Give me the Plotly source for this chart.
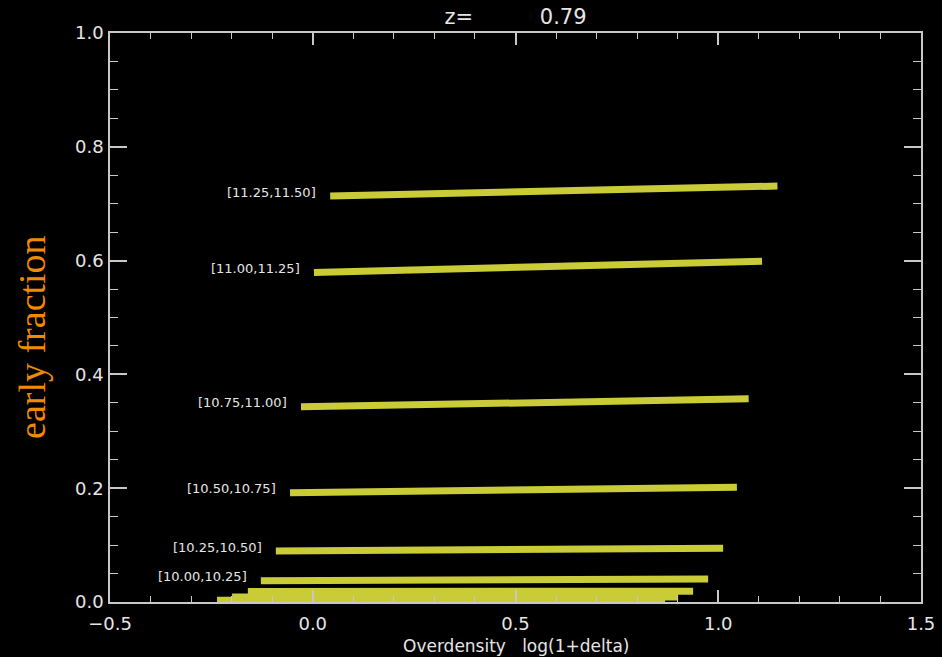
import plotly.graph_objects as go

# Mass bins (labels) and fitted early-fraction lines vs overdensity
bin_labels = ["[11.25,11.50]", "[11.00,11.25]", "[10.75,11.00]", "[10.50,10.75]",
              "[10.25,10.50]", "[10.00,10.25]", "", "", ""]
x_start = [0.043, 0.003, -0.029, -0.056, -0.091, -0.128, -0.160, -0.199, -0.236]
x_end   = [1.146, 1.108, 1.075, 1.046, 1.012, 0.975, 0.938, 0.901, 0.869]
y_start = [0.7135, 0.579, 0.343, 0.192, 0.0896, 0.0375, 0.0185, 0.009, 0.003]
y_end   = [0.731, 0.599, 0.357, 0.2015, 0.0944, 0.0405, 0.019, 0.009, 0.003]

redshift = "0.79"
x_ticks = [-0.5, 0.0, 0.5, 1.0, 1.5]
y_ticks = [0.0, 0.2, 0.4, 0.6, 0.8, 1.0]

line_color = "#c9cc36"
axis_color = "#c8c8c8"
text_color = "#e6e6e6"

fig = go.Figure()
for xs, xe, ys, ye in zip(x_start, x_end, y_start, y_end):
    fig.add_trace(go.Scatter(x=[xs, xe], y=[ys, ye], mode="lines",
                             line=dict(color=line_color, width=7),
                             showlegend=False, hoverinfo="skip"))

annotations = []
for lab, xs, ys in zip(bin_labels, x_start, y_start):
    if not lab:
        continue
    annotations.append(dict(x=xs, y=ys, xref="x", yref="y", text=lab,
                            showarrow=False, xanchor="right", yanchor="middle",
                            xshift=-12, yshift=4,
                            font=dict(family="DejaVu Sans", size=13, color=text_color)))

# y-axis title (orange, serif)
annotations.append(dict(x=-0.096, y=0.466, xref="paper", yref="paper",
                        text="early fraction", textangle=-90, showarrow=False,
                        xanchor="center", yanchor="middle",
                        font=dict(family="Liberation Serif", size=38, color="#f08a00")))
# x-axis title
annotations.append(dict(x=0.5, y=-0.0773, xref="paper", yref="paper",
                        text="Overdensity\u00a0\u00a0\u00a0log(1+delta)", showarrow=False,
                        xanchor="center", yanchor="middle",
                        font=dict(family="DejaVu Sans", size=17, color=text_color)))

axis_common = dict(showline=True, linecolor=axis_color, linewidth=1.5, mirror="allticks",
                   ticks="inside", tickcolor=axis_color, tickwidth=1.5,
                   showgrid=False, zeroline=False, automargin=False,
                   tickfont=dict(family="DejaVu Sans", size=18, color=text_color))

fig.update_layout(
    width=942, height=657,
    paper_bgcolor="black", plot_bgcolor="black",
    margin=dict(l=110, r=21, t=33, b=55),
    title=dict(text="z=" + "\u00a0" * 10 + redshift,
               x=(110 + 811 / 2) / 942, xanchor="center", y=1 - 17 / 657, yanchor="middle",
               font=dict(family="DejaVu Sans", size=21, color=text_color)),
    xaxis=dict(range=[-0.5, 1.5], tickvals=x_ticks, tickformat=".1f", ticklen=12,
               ticklabelstandoff=5,
               minor=dict(ticks="inside", dtick=0.1, ticklen=6, tickcolor=axis_color, tickwidth=1.2),
               **axis_common),
    yaxis=dict(range=[0, 1], tickvals=y_ticks, tickformat=".1f", ticklen=17,
               ticklabelstandoff=1,
               minor=dict(ticks="inside", dtick=0.05, ticklen=8, tickcolor=axis_color, tickwidth=1.2),
               **axis_common),
    annotations=annotations,
)

fig.write_html("out.html", config={"displayModeBar": False},
               post_script="document.body.style.margin='0';document.body.style.padding='0';"
                           "document.body.style.background='black';"
                           "document.documentElement.style.background='black';")
